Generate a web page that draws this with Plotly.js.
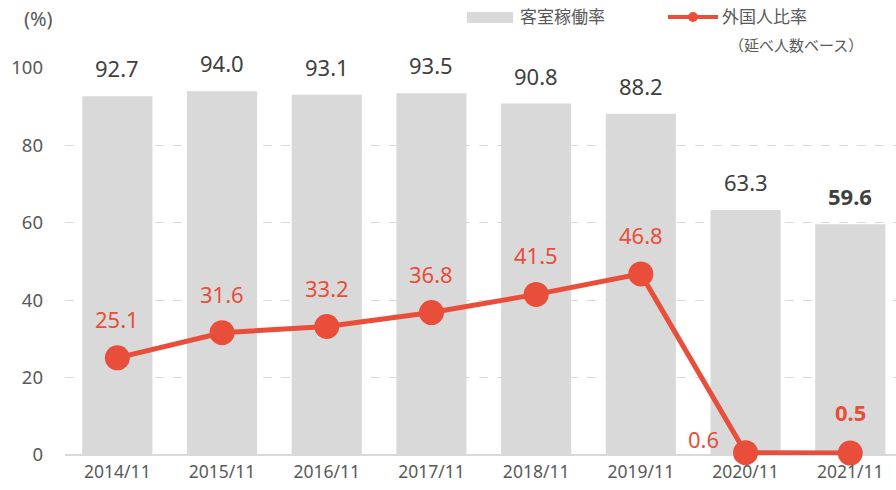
<!DOCTYPE html>
<html><head><meta charset="utf-8">
<script src="https://cdn.plot.ly/plotly-3.0.1.min.js"></script>
<style>html,body{margin:0;padding:0;background:#fff;}#chart{width:896px;height:490px;}</style>
</head><body><div id="chart"></div>
<script>
const categories = ["2014/11","2015/11","2016/11","2017/11","2018/11","2019/11","2020/11","2021/11"];
const occupancyRate = [92.7, 94.0, 93.1, 93.5, 90.8, 88.2, 63.3, 59.6];
const foreignRatio = [25.1, 31.6, 33.2, 36.8, 41.5, 46.8, 0.6, 0.5];
const yTicks = [0, 20, 40, 60, 80, 100];

const RED = "#e84e3a", GRAY = "#d9d9d9", TXT = "#404040", TICK = "#595959";
const FONT = "Noto Sans, Noto Sans CJK JP, sans-serif";
const L = 65, T = 68, W = 831, H = 387;
const px = x => (x - L) / W, py = y => (T + H - y) / H;
const last = categories.length - 1;

const traces = [
  {type: "bar", x: categories.map((c,i)=>i), y: occupancyRate, width: 0.67,
   marker: {color: GRAY}, hoverinfo: "skip", showlegend: false},
  {type: "scatter", mode: "lines+markers", x: categories.map((c,i)=>i), y: foreignRatio,
   line: {color: RED, width: 5}, marker: {color: RED, size: 25},
   hoverinfo: "skip", showlegend: false, cliponaxis: false}
];

const annotations = [];
occupancyRate.forEach((v,i)=>{
  annotations.push({x: i, y: v, xref: "x", yref: "y", text: i===last ? "<b>"+v.toFixed(1)+"</b>" : v.toFixed(1),
    showarrow: false, yshift: 28, yanchor: "middle", font: {family: FONT, size: 22, color: TXT}});
});
foreignRatio.forEach((v,i)=>{
  let xs = 0, ys = 39;
  if (i === 6) { xs = -42; ys = 14; }
  if (i === last) { ys = 41; }
  annotations.push({x: i, y: v, xref: "x", yref: "y", text: i===last ? "<b>"+v.toFixed(1)+"</b>" : v.toFixed(1),
    showarrow: false, xshift: xs, yshift: ys, yanchor: "middle", font: {family: FONT, size: 22, color: RED}});
});
annotations.push({x: px(38), y: py(18), xref: "paper", yref: "paper", xanchor: "center", yanchor: "middle", text: "(%)", showarrow: false,
  font: {family: FONT, size: 20, color: TICK}});
annotations.push({x: px(518), y: py(17), xref: "paper", yref: "paper", xanchor: "left", yanchor: "middle", text: "客室稼働率", showarrow: false,
  font: {family: FONT, size: 17, color: TICK}});
annotations.push({x: px(720), y: py(17), xref: "paper", yref: "paper", xanchor: "left", yanchor: "middle", text: "外国人比率", showarrow: false,
  font: {family: FONT, size: 17, color: TICK}});
annotations.push({x: px(727), y: py(45), xref: "paper", yref: "paper", xanchor: "left", yanchor: "middle", text: "（延べ人数ベース）", showarrow: false,
  font: {family: FONT, size: 15, color: TICK}});

const shapes = [
  {type: "rect", xref: "paper", yref: "paper", x0: px(467), x1: px(513), y0: py(23), y1: py(12), fillcolor: GRAY, line: {width: 0}},
  {type: "line", xref: "paper", yref: "paper", x0: px(668), x1: px(718), y0: py(17), y1: py(17), line: {color: RED, width: 4}},
  {type: "circle", xref: "paper", yref: "paper", x0: px(688), x1: px(698), y0: py(22), y1: py(12), fillcolor: RED, line: {width: 0}}
];

const layout = {
  width: 896, height: 490,
  margin: {l: L, r: 0, t: T, b: 490 - T - H},
  paper_bgcolor: "#fff", plot_bgcolor: "#fff",
  font: {family: FONT, color: TICK},
  xaxis: {range: [-0.5, -0.5 + W/104.7], tickvals: categories.map((c,i)=>i), ticktext: categories,
    tickfont: {family: FONT, size: 17.5, color: TICK}, showgrid: false, zeroline: false, showline: false,
    ticks: "", ticklabelstandoff: 4, fixedrange: true},
  yaxis: {range: [0, 100], tickvals: yTicks, ticktext: yTicks.map(String),
    tickfont: {family: FONT, size: 18.5, color: TICK}, showgrid: true, gridcolor: GRAY, griddash: "dash",
    gridwidth: 1, zeroline: true, zerolinecolor: GRAY, zerolinewidth: 2, showline: false,
    ticks: "", ticklabelstandoff: 21, fixedrange: true},
  annotations, shapes, showlegend: false, bargap: 0.33
};

Plotly.newPlot("chart", traces, layout, {displayModeBar: false, staticPlot: true});
</script></body></html>
